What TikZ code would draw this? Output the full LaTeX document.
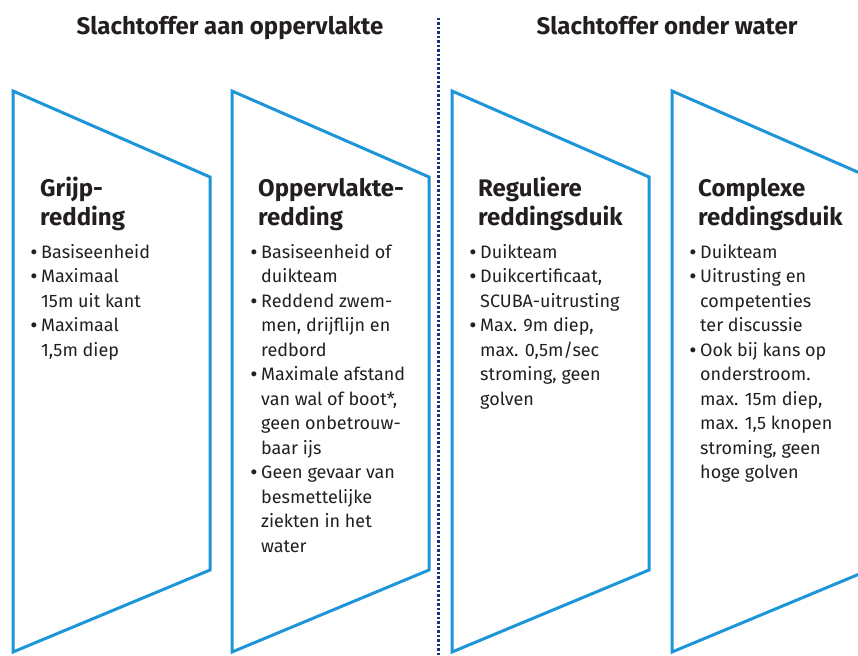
\documentclass[tikz,border=0pt]{standalone}
\usepackage{fontspec}
\setmainfont{Fira Sans}
\usepackage{xcolor}
\definecolor{kaderBlauw}{RGB}{28,150,216}
\definecolor{lijnNavy}{RGB}{30,50,120}
\definecolor{tekstZwart}{RGB}{35,31,32}
\usetikzlibrary{positioning}
\tikzset{
  kader/.style={draw=kaderBlauw, line width=3pt, line join=miter},
  scheiding/.style={draw=lijnNavy, line width=3pt, dash pattern=on 2.5pt off 2pt},
  titel/.style={font=\fontsize{24}{28}\selectfont\bfseries, text=tekstZwart, anchor=base, inner sep=0pt},
  kop/.style={font=\fontsize{24}{29}\selectfont\bfseries, text=tekstZwart, align=left, anchor=base west, inner sep=0pt},
  lijst/.style={font=\fontsize{18}{24.5}\selectfont, text=tekstZwart, align=left, inner sep=0pt}
}
\newcommand{\bul}{\llap{{\bfseries\textbullet}\hspace{4pt}}}

\begin{document}
\begin{tikzpicture}[x=1pt, y=-1pt]
\useasboundingbox (0,0) rectangle (858,655);
\clip (0,0) rectangle (858,655);
% kaders
\draw[kader] (13,91) -- (210,177) -- (210,570) -- (13,652) -- cycle;
\draw[kader] (232,91) -- (429,177) -- (429,570) -- (232,652) -- cycle;
\draw[kader] (452,91) -- (649,177) -- (649,570) -- (452,652) -- cycle;
\draw[kader] (672,91) -- (869,177) -- (869,570) -- (672,652) -- cycle;
% scheidingslijn
\coordinate (boven) at (438,18);
\coordinate (onder) at (438,658);
\draw[scheiding] (boven) -- (onder);
% titels
\node[titel] (aan) at (230,35) {Slachtoffer aan oppervlakte};
\node[titel] (onderwater) at (667,35) {Slachtoffer onder water};
% kolom 1
\node[kop] (kop1) at (40,225) {Grijp-\\redding};
\node[lijst, below=131pt of kop1.base west, anchor=base west, xshift=1pt] (lijst1) {\bul Basiseenheid\\\bul Maximaal\\15m uit kant\\\bul Maximaal\\1,5m diep};
% kolom 2
\node[kop] (kop2) at (258,225) {Oppervlakte-\\redding};
\node[lijst, below=327pt of kop2.base west, anchor=base west, xshift=3pt] (lijst2) {\bul Basiseenheid of\\duikteam\\\bul Reddend zwem-\\men, drijflijn en\\redbord\\\bul Maximale afstand\\van wal of boot*,\\geen onbetrouw-\\baar ijs\\\bul Geen gevaar van\\besmettelijke\\ziekten in het\\water};
% kolom 3
\node[kop] (kop3) at (478,225) {Reguliere\\reddingsduik};
\node[lijst, below=180pt of kop3.base west, anchor=base west, xshift=2pt] (lijst3) {\bul Duikteam\\\bul Duikcertificaat,\\SCUBA-uitrusting\\\bul Max. 9m diep,\\max. 0,5m/sec\\stroming, geen\\golven};
% kolom 4
\node[kop] (kop4) at (698,225) {Complexe\\reddingsduik};
\node[lijst, below=253.5pt of kop4.base west, anchor=base west, xshift=2pt] (lijst4) {\bul Duikteam\\\bul Uitrusting en\\competenties\\ter discussie\\\bul Ook bij kans op\\onderstroom.\\max. 15m diep,\\max. 1,5 knopen\\stroming, geen\\hoge golven};
\end{tikzpicture}
\end{document}
